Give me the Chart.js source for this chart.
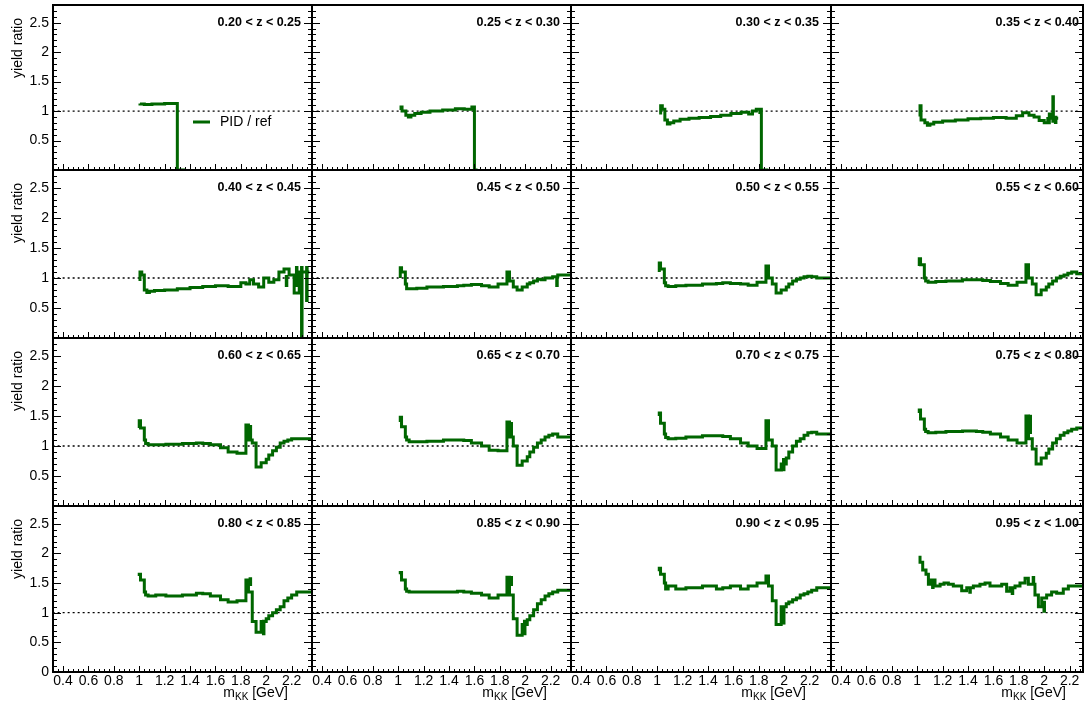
<!DOCTYPE html>
<html>
<head>
<meta charset="utf-8">
<title>yield ratio PID / ref</title>
<script src="https://cdn.jsdelivr.net/npm/chart.js@4.4.1/dist/chart.umd.min.js"></script>
<style>
  html, body { margin: 0; padding: 0; background: #fff; }
  #page { position: relative; width: 1085px; height: 707px; overflow: hidden; }
  #page canvas { position: absolute; }
</style>
</head>
<body>
<div id="page"></div>
<script>
// z bins, one panel each
const zLabels = ['0.20 < z < 0.25', '0.25 < z < 0.30', '0.30 < z < 0.35', '0.35 < z < 0.40',
                 '0.40 < z < 0.45', '0.45 < z < 0.50', '0.50 < z < 0.55', '0.55 < z < 0.60',
                 '0.60 < z < 0.65', '0.65 < z < 0.70', '0.70 < z < 0.75', '0.75 < z < 0.80',
                 '0.80 < z < 0.85', '0.85 < z < 0.90', '0.90 < z < 0.95', '0.95 < z < 1.00'];
const xTicks = [0.4, 0.6, 0.8, 1, 1.2, 1.4, 1.6, 1.8, 2, 2.2];
const yTicks = [0, 0.5, 1, 1.5, 2, 2.5];

// m_KK bin edges [GeV] and PID/ref ratio per bin, error bars as [m, low, high]
const edges20 = [1.006, 1.04, 1.10, 1.20, 1.30, 1.36, 1.365];
const ratio20 = [1.13, 1.12, 1.11, 1.12, 1.13, 0];
const err20 = [];

const edges25 = [1.022, 1.03, 1.06, 1.08, 1.10, 1.13, 1.18, 1.25, 1.35, 1.45, 1.52, 1.58, 1.60, 1.62, 1.625];
const ratio25 = [1.02, 1.07, 1.00, 0.93, 0.90, 0.93, 0.96, 0.98, 1.00, 1.02, 1.04, 1.03, 1.07, 0];
const err25 = [];

const edges30 = [1.027, 1.04, 1.06, 1.08, 1.10, 1.13, 1.18, 1.25, 1.33, 1.42, 1.50, 1.58, 1.66, 1.72, 1.75, 1.78, 1.82, 1.87, 1.875];
const ratio30 = [0.94, 1.09, 1.03, 0.85, 0.78, 0.80, 0.83, 0.86, 0.88, 0.89, 0.91, 0.93, 0.96, 0.98, 0.95, 1.00, 1.03, 0];
const err30 = [[1.81, 0.95, 1.05]];

const edges35 = [1.022, 1.03, 1.06, 1.08, 1.10, 1.13, 1.20, 1.30, 1.40, 1.50, 1.60, 1.70, 1.78, 1.83, 1.88, 1.92, 1.96, 2.00, 2.04, 2.06, 2.08, 2.11];
const ratio35 = [0.91, 1.09, 0.85, 0.80, 0.76, 0.78, 0.81, 0.83, 0.85, 0.87, 0.88, 0.89, 0.88, 0.92, 0.97, 0.93, 0.90, 0.84, 0.80, 0.95, 0.88];
const err35 = [[2.03, 0.78, 0.90], [2.07, 0.80, 1.27], [2.09, 0.78, 0.92]];

const edges40 = [1.006, 1.02, 1.04, 1.06, 1.08, 1.12, 1.20, 1.30, 1.40, 1.50, 1.60, 1.70, 1.80, 1.84, 1.87, 1.90, 1.94, 1.98, 2.02, 2.06, 2.10, 2.14, 2.18, 2.22, 2.26, 2.30, 2.34];
const ratio40 = [0.95, 1.10, 1.05, 0.80, 0.76, 0.78, 0.79, 0.80, 0.82, 0.84, 0.86, 0.87, 0.86, 0.92, 0.90, 0.97, 0.90, 0.85, 1.00, 0.93, 0.97, 1.10, 1.15, 1.05, 0.75, 1.10];
const err40 = [[2.16, 0.85, 1.05], [2.24, 0.85, 1.20], [2.28, 0.00, 1.20], [2.32, 0.60, 1.20]];

// bins read for the first column and for the other columns
const edgesA = [1.00, 1.01, 1.04, 1.05, 1.07, 1.13, 1.21, 1.34, 1.45, 1.50, 1.56, 1.64, 1.70, 1.77, 1.84,
                1.86, 1.89, 1.92, 1.96, 2.00, 2.02, 2.05, 2.08, 2.11, 2.14, 2.17, 2.20, 2.24, 2.27, 2.36];
const edgesB = [1.016, 1.026, 1.056, 1.066, 1.086, 1.146, 1.226, 1.356, 1.466, 1.516, 1.576, 1.656, 1.716, 1.786, 1.856,
                1.876, 1.906, 1.936, 1.976, 2.016, 2.036, 2.066, 2.096, 2.126, 2.156, 2.186, 2.216, 2.256, 2.286, 2.376];

const ratio45 = [1.00, 1.17, 1.10, 0.90, 0.82, 0.82, 0.83, 0.85, 0.86, 0.87, 0.88, 0.89, 0.87, 0.85, 0.90,
                 1.10, 0.95, 0.85, 0.80, 0.85, 0.90, 0.92, 0.95, 0.98, 0.97, 1.00, 1.00, 1.02, 1.05];
const err45 = [[2.25, 0.85, 1.02]];
const ratio50 = [1.10, 1.25, 1.15, 0.92, 0.87, 0.86, 0.87, 0.88, 0.90, 0.91, 0.92, 0.91, 0.90, 0.88, 0.93,
                 1.20, 1.00, 0.90, 0.75, 0.80, 0.85, 0.90, 0.95, 0.98, 1.00, 1.02, 1.03, 1.02, 1.00];
const err50 = [];
const ratio55 = [1.20, 1.32, 1.22, 1.00, 0.95, 0.93, 0.94, 0.95, 0.97, 0.97, 0.96, 0.94, 0.91, 0.88, 0.93,
                 1.22, 1.00, 0.90, 0.72, 0.80, 0.85, 0.90, 0.95, 1.00, 1.03, 1.05, 1.08, 1.10, 1.07];
const err55 = [];
const ratio60 = [1.30, 1.42, 1.30, 1.10, 1.04, 1.02, 1.02, 1.03, 1.04, 1.05, 1.04, 1.02, 0.97, 0.90, 0.88,
                 1.35, 1.10, 1.05, 0.65, 0.72, 0.78, 0.85, 0.92, 0.98, 1.05, 1.08, 1.10, 1.12, 1.12];
const err60 = [[1.875, 1.10, 1.35]];
const ratio65 = [1.40, 1.48, 1.32, 1.15, 1.10, 1.07, 1.07, 1.08, 1.10, 1.10, 1.09, 1.05, 1.00, 0.93, 0.92,
                 1.40, 1.15, 1.00, 0.68, 0.75, 0.82, 0.90, 0.98, 1.05, 1.10, 1.15, 1.18, 1.20, 1.15];
const err65 = [[1.89, 1.15, 1.40]];
const ratio70 = [1.50, 1.55, 1.38, 1.20, 1.14, 1.12, 1.13, 1.15, 1.17, 1.17, 1.16, 1.12, 1.05, 1.00, 0.96,
                 1.42, 1.10, 1.00, 0.60, 0.70, 0.80, 0.90, 1.00, 1.08, 1.12, 1.18, 1.22, 1.23, 1.20];
const err70 = [[1.996, 0.58, 0.80]];
const ratio75 = [1.55, 1.60, 1.45, 1.28, 1.24, 1.22, 1.23, 1.24, 1.25, 1.24, 1.23, 1.20, 1.15, 1.10, 1.05,
                 1.50, 1.12, 0.95, 0.70, 0.80, 0.88, 0.95, 1.05, 1.12, 1.18, 1.22, 1.25, 1.28, 1.30];
const err75 = [[1.89, 1.20, 1.52]];
const ratio80 = [1.62, 1.65, 1.55, 1.35, 1.30, 1.28, 1.30, 1.28, 1.30, 1.33, 1.32, 1.28, 1.22, 1.18, 1.20,
                 1.55, 1.35, 0.85, 0.67, 0.85, 0.90, 0.95, 1.00, 1.05, 1.10, 1.20, 1.25, 1.30, 1.35];
const err80 = [[1.875, 1.45, 1.60], [1.98, 0.62, 0.88]];
const ratio85 = [1.65, 1.68, 1.55, 1.40, 1.36, 1.35, 1.35, 1.35, 1.35, 1.36, 1.35, 1.33, 1.30, 1.25, 1.30,
                 1.60, 1.30, 0.90, 0.62, 0.80, 0.88, 0.95, 1.05, 1.15, 1.22, 1.28, 1.32, 1.35, 1.38];
const err85 = [[1.89, 1.45, 1.62], [1.996, 0.62, 0.88]];
const ratio90 = [1.70, 1.75, 1.65, 1.50, 1.40, 1.45, 1.40, 1.42, 1.45, 1.40, 1.42, 1.45, 1.40, 1.45, 1.50,
                 1.62, 1.45, 1.20, 0.80, 1.10, 1.15, 1.18, 1.22, 1.25, 1.30, 1.32, 1.35, 1.38, 1.42];
const err90 = [[1.996, 0.80, 1.10]];

const edges95 = [1.022, 1.043, 1.069, 1.088, 1.106, 1.140, 1.180, 1.211, 1.245, 1.284, 1.311, 1.350, 1.390, 1.442,
                 1.494, 1.534, 1.573, 1.665, 1.704, 1.730, 1.770, 1.809, 1.849, 1.875, 1.927, 1.954, 1.980, 2.019,
                 2.058, 2.098, 2.150, 2.190, 2.229, 2.321];
const ratio95 = [1.96, 1.85, 1.72, 1.65, 1.48, 1.55, 1.45, 1.48, 1.50, 1.48, 1.45, 1.45, 1.37, 1.42, 1.45, 1.48, 1.50,
                 1.45, 1.48, 1.36, 1.42, 1.45, 1.50, 1.58, 1.48, 1.30, 1.10, 1.25, 1.30, 1.35, 1.33, 1.40, 1.45];
const err95 = [[1.123, 1.40, 1.55], [1.416, 1.32, 1.42], [1.750, 1.30, 1.42], [1.915, 1.50, 1.62], [2.00, 1.00, 1.20]];

const panels = [
  [edges20, ratio20, err20], [edges25, ratio25, err25], [edges30, ratio30, err30], [edges35, ratio35, err35],
  [edges40, ratio40, err40], [edgesB, ratio45, err45], [edgesB, ratio50, err50], [edgesB, ratio55, err55],
  [edgesA, ratio60, err60], [edgesB, ratio65, err65], [edgesB, ratio70, err70], [edgesB, ratio75, err75],
  [edgesA, ratio80, err80], [edgesB, ratio85, err85], [edgesB, ratio90, err90], [edges95, ratio95, err95]
];

// pad geometry (page pixels)
const colX = [53, 312, 571, 831], colW = [259, 259, 260, 252];
const rowY = [5, 170, 338, 506], rowH = [165, 168, 168, 166];
const xMin = 0.321, pxPerGeV = 127;
const green = '#006600';
const font = 'Liberation Sans, Arial, Helvetica, sans-serif';
Chart.defaults.font.family = font;
Chart.defaults.color = '#000';

function histPoints(edges, vals) {
  const pts = vals.map((v, i) => ({ x: edges[i], y: v }));
  pts.push({ x: edges[edges.length - 1], y: vals[vals.length - 1] });
  return pts;
}
function errPoints(errs) {
  const pts = [];
  errs.forEach(([m, lo, hi]) => pts.push({ x: m, y: lo }, { x: m, y: hi }, { x: m, y: null }));
  return pts;
}

// frame, inner ticks, labels drawn on top of the datasets
const padDeco = {
  id: 'padDeco',
  afterDraw(chart, args, o) {
    const { ctx, chartArea: a, scales: { x, y } } = chart;
    ctx.save();
    ctx.strokeStyle = '#000';
    ctx.lineWidth = 1;
    ctx.beginPath();
    for (let k = 0; k <= 28; k++) {
      const py = Math.round(y.getPixelForValue(k / 10)) + 0.5;
      const len = k % 5 === 0 ? 8 : 4;
      ctx.moveTo(a.left, py); ctx.lineTo(a.left + len, py);
      ctx.moveTo(a.right, py); ctx.lineTo(a.right - len, py);
    }
    for (let k = 8; k <= 59; k++) {
      const v = k * 0.04;
      if (v < x.min || v > x.max) continue;
      const px = Math.round(x.getPixelForValue(v)) + 0.5;
      const len = k % 5 === 0 ? 6 : 3;
      ctx.moveTo(px, a.bottom); ctx.lineTo(px, a.bottom - len);
    }
    ctx.stroke();
    ctx.lineWidth = 2;
    ctx.strokeRect(a.left, a.top, a.right - a.left, a.bottom - a.top);

    ctx.fillStyle = '#000';
    ctx.font = 'bold 12.5px ' + font;
    ctx.textAlign = 'right';
    ctx.textBaseline = 'middle';
    ctx.fillText(o.label, a.left + 248, a.top + 18);

    ctx.font = '14px ' + font;
    if (o.col === 0) {
      ctx.save();
      ctx.translate(18, a.top + 13);
      ctx.rotate(-Math.PI / 2);
      ctx.textAlign = 'right';
      ctx.fillText('yield ratio', 0, 0);
      ctx.restore();
    }
    if (o.row === 3) {
      const right = a.left + 235, base = a.bottom + 25;
      ctx.textBaseline = 'alphabetic';
      ctx.textAlign = 'left';
      const w1 = ctx.measureText('m').width, w3 = ctx.measureText(' [GeV]').width;
      ctx.font = '10px ' + font;
      const w2 = ctx.measureText('KK').width;
      const start = right - w1 - w2 - w3;
      ctx.font = '14px ' + font;
      ctx.fillText('m', start, base);
      ctx.fillText(' [GeV]', start + w1 + w2, base);
      ctx.font = '10px ' + font;
      ctx.fillText('KK', start + w1, base + 3);
    }
    if (o.legend) {
      const ly = a.top + 117;
      ctx.strokeStyle = green;
      ctx.lineWidth = 3;
      ctx.beginPath();
      ctx.moveTo(a.left + 140, ly); ctx.lineTo(a.left + 157, ly);
      ctx.stroke();
      ctx.font = '14px ' + font;
      ctx.textAlign = 'left';
      ctx.textBaseline = 'middle';
      ctx.fillText(chart.data.datasets[0].label, a.left + 167, ly);
    }
    ctx.restore();
  }
};

const page = document.getElementById('page');
panels.forEach(([edges, vals, errs], i) => {
  const r = Math.floor(i / 4), c = i % 4;
  const padL = c === 0 ? 53 : 4, padR = c === 3 ? 2 : 4, padT = 4, padB = r === 3 ? 35 : 4;
  const w = colW[c] + padL + padR, h = rowH[r] + padT + padB;
  const cv = document.createElement('canvas');
  cv.width = w; cv.height = h;
  cv.style.width = w + 'px'; cv.style.height = h + 'px';
  cv.style.left = (colX[c] - padL) + 'px';
  cv.style.top = (rowY[r] - padT) + 'px';
  page.appendChild(cv);

  new Chart(cv, {
    type: 'line',
    data: {
      datasets: [
        { label: 'PID / ref', data: histPoints(edges, vals), stepped: 'after', borderColor: green,
          borderWidth: 3, pointRadius: 0, borderJoinStyle: 'miter' },
        { label: 'err', data: errPoints(errs), borderColor: green, borderWidth: 3.5, pointRadius: 0, spanGaps: false },
        { label: 'one', data: [{ x: 0.2, y: 1 }, { x: 2.28, y: 1 }], borderColor: '#000', borderWidth: 1.3,
          borderDash: [2, 3], pointRadius: 0 }
      ]
    },
    options: {
      responsive: false,
      maintainAspectRatio: false,
      animation: false,
      devicePixelRatio: 1,
      layout: { padding: { left: c === 0 ? 0 : padL, right: padR, top: padT, bottom: r === 3 ? 0 : padB } },
      plugins: {
        legend: { display: false },
        tooltip: { enabled: false },
        padDeco: { row: r, col: c, label: zLabels[i], legend: i === 0 }
      },
      scales: {
        x: {
          type: 'linear', min: xMin, max: xMin + colW[c] / pxPerGeV,
          display: r === 3,
          grid: { display: false, drawTicks: false }, border: { display: false },
          afterBuildTicks: s => { s.ticks = xTicks.map(v => ({ value: v })); },
          afterFit: s => { s.height = r === 3 ? 35 : 0; s.paddingLeft = 0; s.paddingRight = 0; },
          ticks: { autoSkip: false, maxRotation: 0, padding: 1, font: { size: 14 }, callback: v => String(v) }
        },
        y: {
          type: 'linear', min: 0, max: 2.8,
          display: c === 0,
          grid: { display: false, drawTicks: false }, border: { display: false },
          afterBuildTicks: s => { s.ticks = yTicks.map(v => ({ value: v })); },
          afterFit: s => { s.width = c === 0 ? 53 : 0; s.paddingTop = 0; s.paddingBottom = 0; },
          ticks: { padding: 4, font: { size: 14 }, callback: v => (v === 0 && r !== 3) ? '' : String(v) }
        }
      }
    },
    plugins: [padDeco]
  });
});
</script>
</body>
</html>
